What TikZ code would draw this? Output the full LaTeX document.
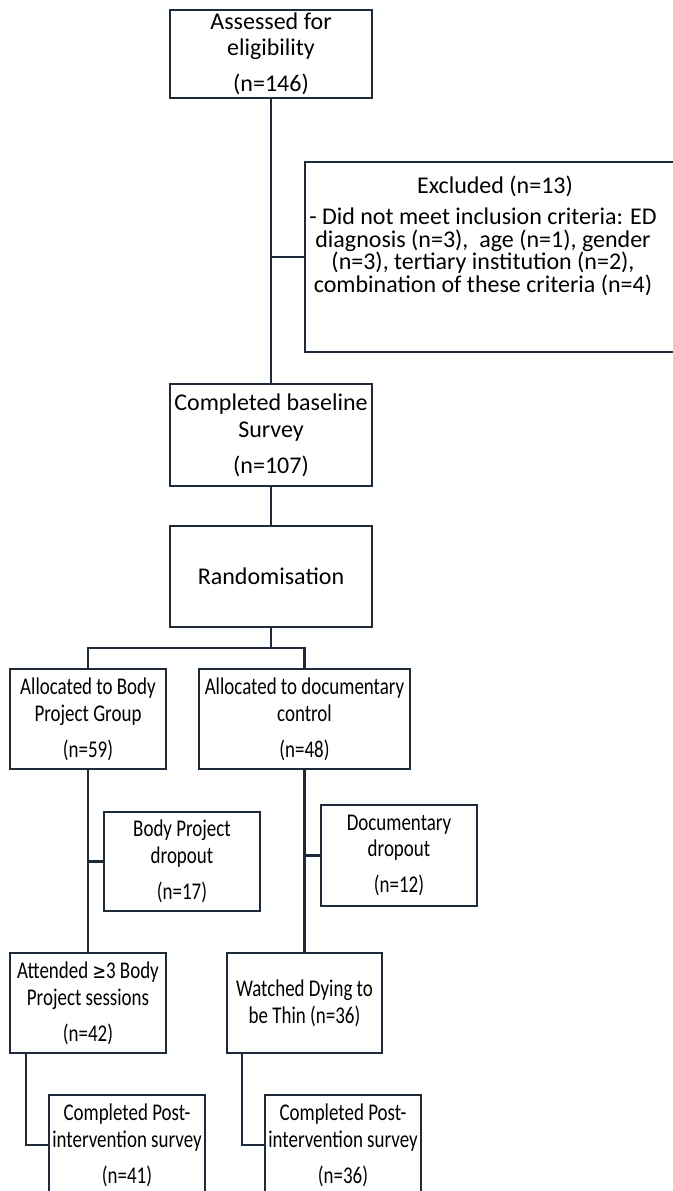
\documentclass[tikz,border=0pt]{standalone}
\usepackage{fontspec}
\setmainfont{Carlito}
\newfontfamily\narrowfont[FakeStretch=0.79]{Carlito}
\newfontfamily\symfont[FakeStretch=0.79]{DejaVu Sans}
\definecolor{navy}{RGB}{28,42,58}
\tikzset{
  box/.style={draw=navy, line width=2pt, fill=white, inner sep=0pt, align=center,
    font=\fontsize{18pt}{20pt}\selectfont, text=black},
  nbox/.style={box, font=\narrowfont\fontsize{18pt}{20pt}\selectfont},
  txt/.style={inner sep=0pt, align=center, text=black},
  link/.style={draw=navy, line width=2pt}
}
\begin{document}
\begin{tikzpicture}[x=0.75pt, y=-0.75pt]
\useasboundingbox (0,0) rectangle (673,1191);
\clip (0,0) rectangle (673,1191);
\fill[white] (0,0) rectangle (673,1191);
% nodes
\node[box, minimum width=202*0.75pt, minimum height=88*0.75pt] (assess) at (271,54)
  {Assessed for\\eligibility\\[7pt](n=146)};
\node[box, minimum width=385*0.75pt, minimum height=190*0.75pt] (excl) at (497.5,257) {};
\node[txt, font=\fontsize{18pt}{17pt}\selectfont, anchor=north] (excltxt) at (483,176)
  {\hspace*{18pt}Excluded (n=13)\\[6pt]- Did not meet inclusion criteria: ED\\diagnosis (n=3),~ age (n=1), gender\\(n=3), tertiary institution (n=2),\\combination of these criteria (n=4)};
\node[box, minimum width=202*0.75pt, minimum height=102*0.75pt] (base) at (271,435)
  {Completed baseline\\Survey\\[7pt](n=107)};
\node[box, minimum width=202*0.75pt, minimum height=101*0.75pt] (rand) at (271,576.5)
  {Randomisation};
\node[nbox, minimum width=156*0.75pt, minimum height=100*0.75pt] (allocbp) at (88,719)
  {Allocated to Body\\Project Group\\[7pt](n=59)};
\node[nbox, minimum width=211*0.75pt, minimum height=100*0.75pt] (allocdoc) at (304.5,719)
  {Allocated to documentary\\control\\[7pt](n=48)};
\node[nbox, minimum width=156*0.75pt, minimum height=99*0.75pt] (bpdrop) at (182,861.5)
  {Body Project\\dropout\\[7pt](n=17)};
\node[nbox, minimum width=156*0.75pt, minimum height=101*0.75pt] (docdrop) at (399,855.5)
  {Documentary\\dropout\\[7pt](n=12)};
\node[nbox, minimum width=156*0.75pt, minimum height=100*0.75pt] (attend) at (88,1003)
  {Attended {\symfont\scalebox{0.85}{≥}}3 Body\\Project sessions\\[7pt](n=42)};
\node[nbox, minimum width=155*0.75pt, minimum height=100*0.75pt] (watched) at (304.5,1003)
  {Watched Dying to\\be Thin (n=36)};
\node[nbox, minimum width=156*0.75pt, minimum height=100*0.75pt] (post1) at (127,1145)
  {Completed Post-\\intervention survey\\[7pt](n=41)};
\node[nbox, minimum width=156*0.75pt, minimum height=100*0.75pt] (post2) at (343,1145)
  {Completed Post-\\intervention survey\\[7pt](n=36)};
% coordinates
\coordinate (j1) at (271,257);
\coordinate (j2) at (271,648);
\coordinate (j3) at (88,861.5);
\coordinate (j4) at (304.5,855.5);
% connectors
\draw[link] (assess.south) -- (base.north);
\draw[link] (j1) -- (j1 -| excl.west);
\draw[link] (base.south) -- (rand.north);
\draw[link] (rand.south) -- (j2);
\draw[link] (allocbp.north) |- (j2) -| (allocdoc.north);
\draw[link] (allocbp.south) -- (attend.north);
\draw[link] (j3) -- (bpdrop.west);
\draw[link] (allocdoc.south) -- (watched.north);
\draw[link] (j4) -- (docdrop.west);
\draw[link] ([xshift=-62*0.75pt]attend.south) |- (post1.west);
\draw[link] ([xshift=-62.5*0.75pt]watched.south) |- (post2.west);
\end{tikzpicture}
\end{document}
